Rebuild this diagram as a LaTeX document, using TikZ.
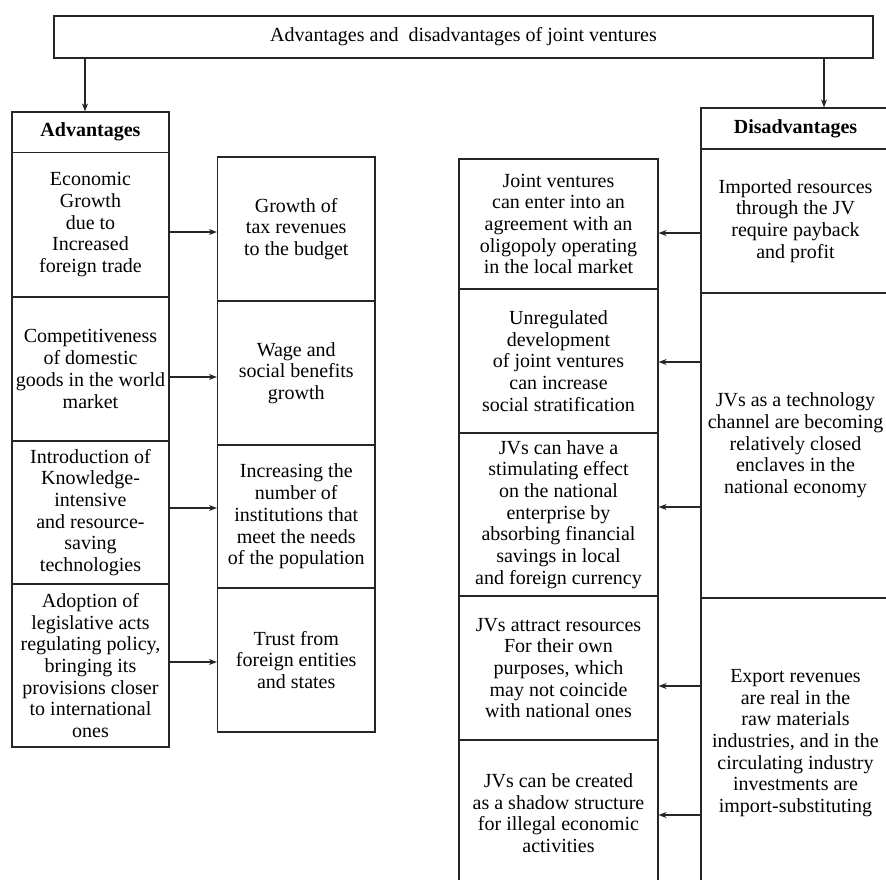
\documentclass[tikz,border=0pt]{standalone}
\usepackage{fontspec}
\setmainfont{Liberation Serif}
\usetikzlibrary{arrows.meta}
\begin{document}
\begin{tikzpicture}[x=1pt,y=-1pt,
  box/.style={draw=black!85, line width=1.2pt, rectangle, inner sep=0pt, align=center,
    font=\fontsize{20}{21.7}\selectfont},
  arr/.style={draw=black!85, line width=1.2pt, -{Stealth[length=8pt,width=6pt]}}]
\useasboundingbox (0,0) rectangle (886,879);
\clip (0,0) rectangle (886,879);
\fill[white] (0,0) rectangle (886,879);
% title
\node[box, minimum width=819, minimum height=42] (title) at (463.5,37) {Advantages and\ \ disadvantages of joint ventures};
% advantages column
\node[box, minimum width=157, minimum height=40.5] (advh) at (90.5,132.25) {\bfseries Advantages};
\node[box, minimum width=157, minimum height=144.5] (a1) at (90.5,224.75) {Economic\\Growth\\due to\\Increased\\foreign trade};
\node[box, minimum width=157, minimum height=144] (a2) at (90.5,369) {Competitiveness\\of domestic\\goods in the world\\market};
\node[box, minimum width=157, minimum height=143] (a3) at (90.5,512.5) {Introduction of\\Knowledge-\\intensive\\and resource-\\saving\\technologies};
\node[box, minimum width=157, minimum height=163] (a4) at (90.5,665.5) {Adoption of\\legislative acts\\regulating policy,\\bringing its\\provisions closer\\to international\\ones};
% effects of advantages
\node[box, minimum width=157.5, minimum height=144] (b1) at (296.25,229) {Growth of\\tax revenues\\to the budget};
\node[box, minimum width=157.5, minimum height=144] (b2) at (296.25,373) {Wage and\\social benefits\\growth};
\node[box, minimum width=157.5, minimum height=143] (b3) at (296.25,516.5) {Increasing the\\number of\\institutions that\\meet the needs\\of the population};
\node[box, minimum width=157.5, minimum height=144] (b4) at (296.25,660) {Trust from\\foreign entities\\and states};
% effects of disadvantages
\node[box, minimum width=199, minimum height=130] (c1) at (558.5,224) {Joint ventures\\can enter into an\\agreement with an\\oligopoly operating\\in the local market};
\node[box, minimum width=199, minimum height=144] (c2) at (558.5,361) {Unregulated\\development\\of joint ventures\\can increase\\social stratification};
\node[box, minimum width=199, minimum height=163] (c3) at (558.5,514.5) {JVs can have a\\stimulating effect\\on the national\\enterprise by\\absorbing financial\\savings in local\\and foreign currency};
\node[box, minimum width=199, minimum height=144] (c4) at (558.5,668) {JVs attract resources\\For their own\\purposes, which\\may not coincide\\with national ones};
\node[box, minimum width=199, minimum height=146] (c5) at (558.5,813) {JVs can be created\\as a shadow structure\\for illegal economic\\activities};
% disadvantages column
\node[box, minimum width=189, minimum height=41] (dish) at (795.5,128.5) {\bfseries Disadvantages};
\node[box, minimum width=189, minimum height=144] (d1) at (795.5,221) {Imported resources\\through the JV\\require payback\\and profit};
\node[box, minimum width=189, minimum height=305] (d2) at (795.5,445.5) {JVs as a technology\\channel are becoming\\relatively closed\\enclaves in the\\national economy};
\node[box, minimum width=189, minimum height=290] (d3) at (795.5,743) {Export revenues\\are real in the\\raw materials\\industries, and in the\\circulating industry\\investments are\\import-substituting};
% helper coordinates
\coordinate (xl) at (85,0);
\coordinate (xr) at (824,0);
\coordinate (ya1) at (0,232);
\coordinate (ya2) at (0,377);
\coordinate (ya3) at (0,508);
\coordinate (ya4) at (0,662);
\coordinate (yd1) at (0,233);
\coordinate (yd2) at (0,362);
\coordinate (yd3) at (0,507);
\coordinate (yd4) at (0,686);
\coordinate (yd5) at (0,815);
% connectors
\draw[arr] (title.south -| xl) -- (advh.north -| xl);
\draw[arr] (title.south -| xr) -- (dish.north -| xr);
\draw[arr] (a1.east |- ya1) -- (b1.west |- ya1);
\draw[arr] (a2.east |- ya2) -- (b2.west |- ya2);
\draw[arr] (a3.east |- ya3) -- (b3.west |- ya3);
\draw[arr] (a4.east |- ya4) -- (b4.west |- ya4);
\draw[arr] (d1.west |- yd1) -- (c1.east |- yd1);
\draw[arr] (d2.west |- yd2) -- (c2.east |- yd2);
\draw[arr] (d2.west |- yd3) -- (c3.east |- yd3);
\draw[arr] (d3.west |- yd4) -- (c4.east |- yd4);
\draw[arr] (d3.west |- yd5) -- (c5.east |- yd5);
\end{tikzpicture}
\end{document}
